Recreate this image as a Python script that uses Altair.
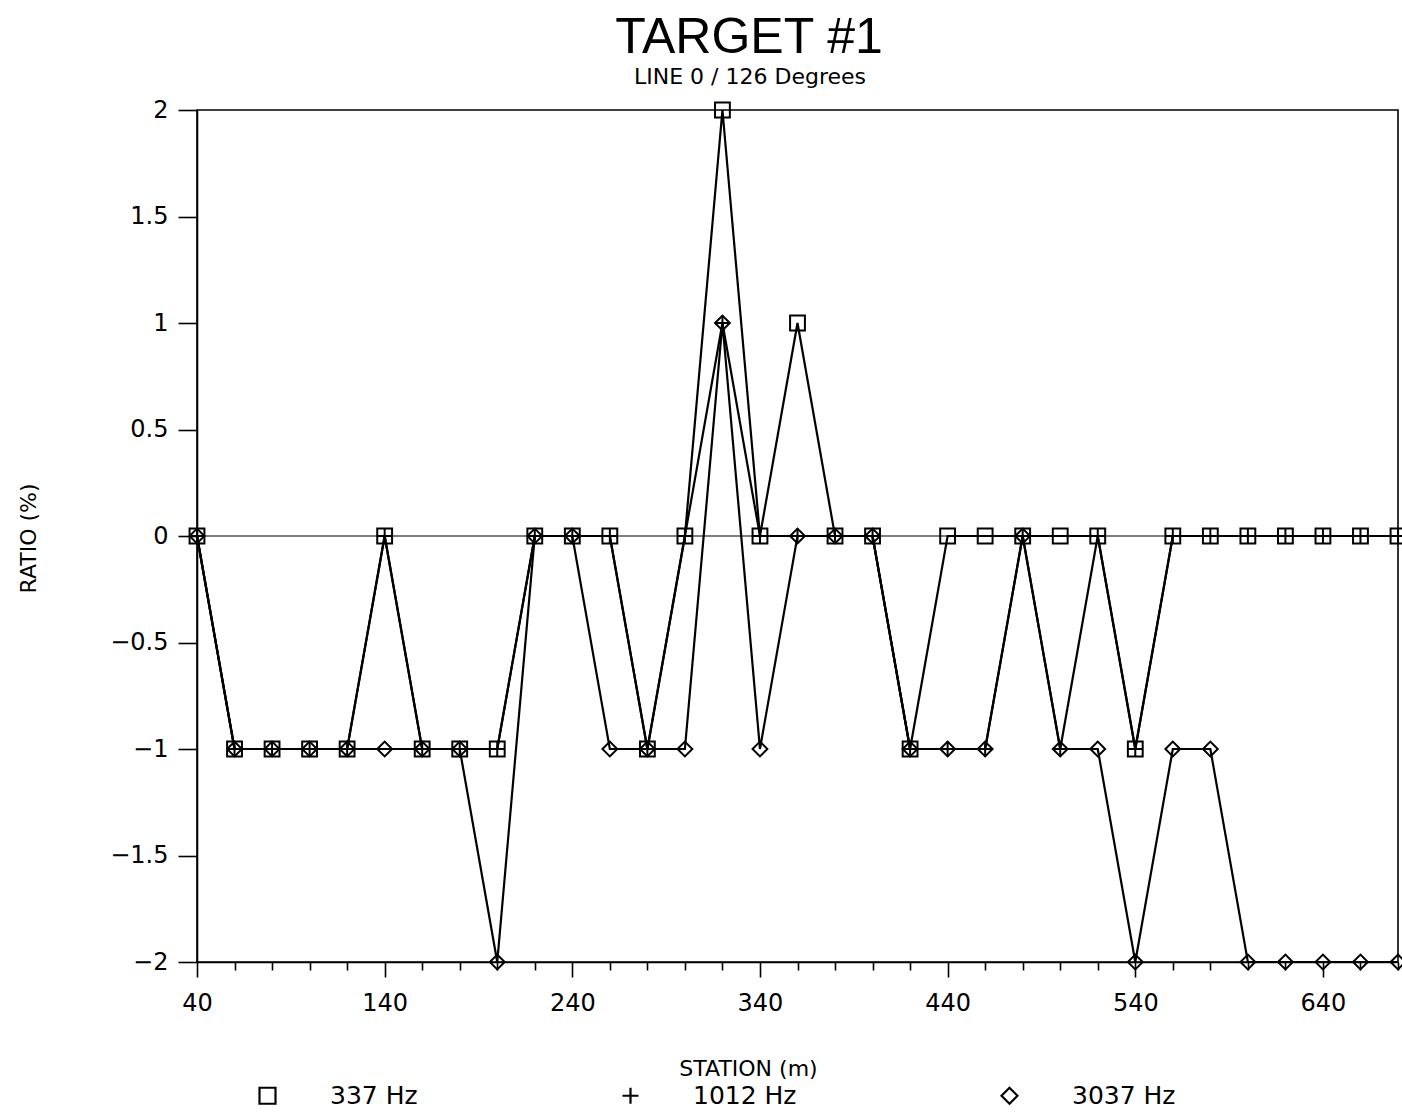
import altair as alt
import pandas as pd

# ---- data ----
stations = list(range(40, 681, 20))
hz337 = [0, -1, -1, -1, -1, 0, -1, -1, -1, 0, 0, 0, -1, 0, 2, 0, 1, 0, 0, -1,
         0, 0, 0, 0, 0, -1, 0, 0, 0, 0, 0, 0, 0]
hz1012 = [0, -1, -1, -1, -1, 0, -1, -1, -1, 0, 0, 0, -1, 0, 1, 0, 0, 0, 0, -1,
          -1, -1, 0, -1, 0, -1, 0, 0, 0, 0, 0, 0, 0]
hz3037 = [0, -1, -1, -1, -1, -1, -1, -1, -2, 0, 0, -1, -1, -1, 1, -1, 0, 0, 0, -1,
          -1, -1, 0, -1, -1, -2, -1, -1, -2, -2, -2, -2, -2]
series_names = ["337 Hz", "1012 Hz", "3037 Hz"]
title_text = ["TARGET #1"]
subtitle_text = ["LINE 0 / 126 Degrees"]
x_title = "STATION (m)"
y_title = "RATIO (%)"
y_tick_values = [-2, -1.5, -1, -0.5, 0, 0.5, 1, 1.5, 2]
zero_line = [0]

rows = []
for name, vals in zip(series_names, [hz337, hz1012, hz3037]):
    for s, v in zip(stations, vals):
        rows.append({"station": s, "ratio": v, "series": name})
df = pd.DataFrame(rows)

W, H = 1201, 852
FONT = "DejaVu Sans"
PLUS = "M-1,0L1,0M0,-1L0,1"

x_enc = alt.X(
    "station:Q",
    scale=alt.Scale(domain=[40, 680], nice=False, zero=False),
    axis=alt.Axis(
        values=stations,
        format="d",
        labelExpr="(datum.value - 40) % 100 == 0 ? datum.label : ''",
        tickSize={"condition": {"test": "(datum.value - 40) % 100 == 0", "value": 15}, "value": 8},
        labelPadding=14,
        labelFontSize=24,
        labelFont=FONT,
        labelOverlap=False,
        labelFlush=False,
        title=x_title,
        titleFont=FONT,
        titleFontSize=22,
        titleFontWeight="normal",
        titleX=551,
        titleY=106,
        titleBaseline="middle",
        titleAlign="center",
    ),
)
y_enc = alt.Y(
    "ratio:Q",
    scale=alt.Scale(domain=[-2, 2], nice=False, zero=False),
    axis=alt.Axis(
        values=y_tick_values,
        format=".1~f",
        tickSize=19,
        labelPadding=10,
        labelFontSize=24,
        labelFont=FONT,
        labelOverlap=False,
        labelFlush=False,
        title=y_title,
        titleFont=FONT,
        titleFontSize=22,
        titleFontWeight="normal",
        titleX=-169,
        titleY=428,
        titleAngle=270,
        titleAlign="center",
        titleBaseline="middle",
    ),
)

zero = alt.Chart(pd.DataFrame({"y": zero_line})).mark_rule(
    color="black", strokeWidth=1.2
).encode(y=alt.Y("y:Q", scale=alt.Scale(domain=[-2, 2], nice=False)))

lines = alt.Chart(df).mark_line(color="black", strokeWidth=2.2).encode(
    x=x_enc, y=y_enc, detail="series:N"
)

points = alt.Chart(df).mark_point(
    filled=False, color="black", strokeWidth=2, size=220, opacity=1
).encode(
    x=x_enc,
    y=y_enc,
    shape=alt.Shape(
        "series:N",
        scale=alt.Scale(domain=series_names, range=["square", PLUS, "diamond"]),
        legend=alt.Legend(
            title=None,
            orient="none",
            legendX=58,
            legendY=973,
            direction="horizontal",
            columns=3,
            columnPadding=200,
            labelOffset=50,
            labelFont=FONT,
            labelFontSize=25,
            labelColor="black",
            symbolSize=256,
            symbolStrokeColor="black",
            symbolStrokeWidth=2.2,
            symbolFillColor="white",
            padding=0,
        ),
    ),
)

title = alt.Chart(pd.DataFrame({"t": title_text})).mark_text(
    font="Liberation Sans", fontSize=50, fontWeight="normal",
    color="black", align="center", baseline="alphabetic"
).encode(x=alt.value(552), y=alt.value(-57), text="t:N")

subtitle = alt.Chart(pd.DataFrame({"t": subtitle_text})).mark_text(
    font=FONT, fontSize=22, color="black", align="center", baseline="middle"
).encode(x=alt.value(553), y=alt.value(-33), text="t:N")

chart = alt.layer(zero, lines, points, title, subtitle).properties(
    width=W,
    height=H,
    autosize=alt.AutoSizeParams(type="none"),
    padding={"left": 197, "top": 110, "right": 4, "bottom": 151},
    background="white",
).configure_view(
    stroke="black", strokeWidth=1.6
).configure_axis(
    domainColor="black", domainWidth=1.6, tickColor="black", tickWidth=1.6,
    labelColor="black", titleColor="black", grid=False
)

chart.save("out.html", embed_options={"renderer": "svg", "actions": False})
